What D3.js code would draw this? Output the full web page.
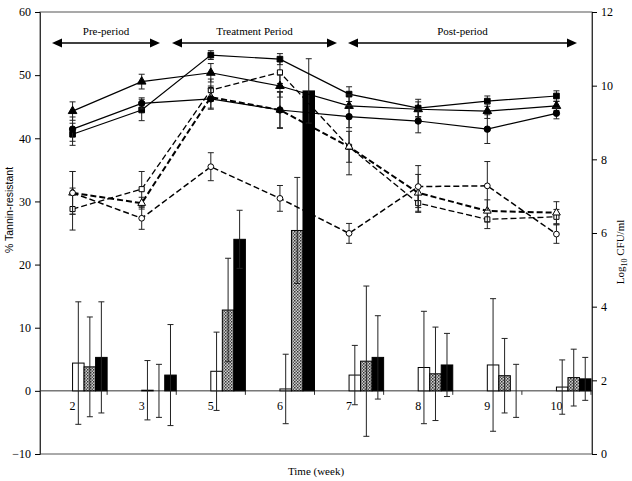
<!DOCTYPE html>
<html>
<head>
<meta charset="utf-8">
<script src="https://cdn.jsdelivr.net/npm/d3@7"></script>
<style>
  body { margin: 0; background: #fff; }
  svg text { font-family: "Liberation Serif", "Times New Roman", serif; }
</style>
</head>
<body>
<svg id="chart" width="632" height="481"></svg>
<script>
// weeks on the category axis
const weeks = ['2', '3', '5', '6', '7', '8', '9', '10'];

// % tannin-resistant bars (left axis) and their error (+/-)
const barWhite = [4.4, 0.1, 3.1, 0.3, 2.5, 3.7, 4.1, 0.6];
const barWhiteErr = [9.7, 4.7, 6.2, 5.5, 4.7, 8.9, 10.5, 4.3];
const barHatched = [3.8, 0, 12.8, 25.4, 4.7, 2.7, 2.4, 2.1];
const barHatchedErr = [7.9, 4.2, 8.2, 8.4, 11.9, 7.4, 5.9, 4.5];
const barBlack = [5.3, 2.5, 24.0, 47.5, 5.3, 4.1, 0, 1.9];
const barBlackErr = [8.8, 8.0, 4.6, 5.1, 6.6, 5.0, 4.2, 3.4];

// log10 CFU/ml lines (right axis)
const solidSquare = [8.68, 9.34, 10.83, 10.72, 9.77, 9.39, 9.58, 9.72];
const solidSquareErr = [0.3, 0.29, 0.12, 0.15, 0.2, 0.24, 0.14, 0.14];
const solidTriangle = [9.31, 10.11, 10.35, 9.99, 9.45, 9.36, 9.31, 9.45];
const solidTriangleErr = [0.25, 0.2, 0.25, 0.3, 0.3, 0.2, 0.2, 0.12];
const solidCircle = [8.82, 9.52, 9.64, 9.34, 9.16, 9.04, 8.82, 9.25];
const solidCircleErr = [0.33, 0.15, 0.28, 0.48, 0.3, 0.32, 0.39, 0.15];

const dashSquare = [6.65, 7.19, 9.88, 10.36, 8.34, 6.81, 6.37, 6.44];
const dashSquareErr = [0.57, 0.48, 0.3, 0.3, 0.42, 0.25, 0.25, 0.2];
const dashTriangle = [7.09, 6.81, 9.69, 9.34, 8.34, 7.09, 6.6, 6.55];
const dashTriangleErr = [0.58, 0.16, 0.3, 0.5, 0.76, 0.5, 0.3, 0.3];
const dashCircle = [7.09, 6.4, 7.8, 6.94, 5.99, 7.26, 7.28, 5.97];
const dashCircleErr = [0.58, 0.3, 0.38, 0.35, 0.27, 0.57, 0.66, 0.25];

const leftTicks = [-10, 0, 10, 20, 30, 40, 50, 60];
const rightTicks = [0, 2, 4, 6, 8, 10, 12];

// period arrows
const periodLabels = ['Pre-period', 'Treatment Period', 'Post-period'];

const svg = d3.select('#chart');
const plotL = 40, plotR = 592, plotT = 12, plotB = 454;

const x = d3.scaleBand().domain(weeks).range([38, 591]).padding(0);
const yL = d3.scaleLinear().domain([-10, 60]).range([plotB, plotT]);
const yR = d3.scaleLinear().domain([0, 12]).range([plotB, plotT]);
const cx = w => x(w) + x.bandwidth() / 2;
const bw = x.bandwidth() / 6;

// hatch pattern for the middle bars
const defs = svg.append('defs');
const pat = defs.append('pattern').attr('id', 'hatch')
  .attr('patternUnits', 'userSpaceOnUse').attr('width', 3).attr('height', 3);
pat.append('rect').attr('width', 3).attr('height', 3).attr('fill', '#d0d0d0');
pat.append('rect').attr('width', 1.5).attr('height', 1.5).attr('fill', '#333');
pat.append('rect').attr('x', 1.5).attr('y', 1.5).attr('width', 1.5).attr('height', 1.5).attr('fill', '#555');

// frame
svg.append('rect').attr('x', plotL).attr('y', plotT)
  .attr('width', plotR - plotL).attr('height', plotB - plotT)
  .attr('fill', 'none').attr('stroke', '#555').attr('stroke-width', 1);

// left axis
const ga = svg.append('g').attr('transform', `translate(${plotL},0)`)
  .call(d3.axisLeft(yL).tickValues(leftTicks).tickSize(5).tickFormat(d3.format('d')));
ga.select('.domain').attr('stroke', '#333');
ga.selectAll('text').style('font-size', '12px').attr('x', -9);

// right axis
const gr = svg.append('g').attr('transform', `translate(${plotR},0)`)
  .call(d3.axisRight(yR).tickValues(rightTicks).tickSize(5));
gr.select('.domain').attr('stroke', '#333');
gr.selectAll('text').style('font-size', '12px').attr('x', 9);

// zero line with category ticks
svg.append('line').attr('x1', plotL).attr('x2', plotR)
  .attr('y1', yL(0)).attr('y2', yL(0)).attr('stroke', '#333');
svg.selectAll('.ctick').data(weeks).enter().append('line')
  .attr('x1', d => x(d) + x.bandwidth()).attr('x2', d => x(d) + x.bandwidth())
  .attr('y1', yL(0)).attr('y2', yL(0) + 4).attr('stroke', '#333');
svg.selectAll('.clab').data(weeks).enter().append('text')
  .attr('x', d => cx(d)).attr('y', yL(0) + 19)
  .attr('text-anchor', 'middle').style('font-size', '12px').text(d => d);

// bars
const barSets = [
  { v: barWhite, e: barWhiteErr, fill: '#fff' },
  { v: barHatched, e: barHatchedErr, fill: 'url(#hatch)' },
  { v: barBlack, e: barBlackErr, fill: '#000' }
];
barSets.forEach((s, i) => {
  const g = svg.append('g');
  weeks.forEach((w, j) => {
    const bx = cx(w) + i * bw;
    const v = s.v[j];
    if (v > 0.05) {
      g.append('rect').attr('x', bx).attr('y', yL(v))
        .attr('width', bw).attr('height', yL(0) - yL(v))
        .attr('fill', s.fill).attr('stroke', '#000').attr('stroke-width', 1);
    }
    const mx = bx + bw / 2;
    const hi = yL(v + s.e[j]), lo = yL(v - s.e[j]);
    g.append('line').attr('x1', mx).attr('x2', mx).attr('y1', hi).attr('y2', lo)
      .attr('stroke', '#222').attr('stroke-width', 1);
    [hi, lo].forEach(yy => g.append('line').attr('x1', mx - 3).attr('x2', mx + 3)
      .attr('y1', yy).attr('y2', yy).attr('stroke', '#222').attr('stroke-width', 1));
  });
});

// lines
const lineSets = [
  { v: dashSquare, e: dashSquareErr, sym: d3.symbolSquare, open: true, dash: '6,3', w: 1.3 },
  { v: dashTriangle, e: dashTriangleErr, sym: d3.symbolTriangle, open: true, dash: '6,3', w: 2 },
  { v: dashCircle, e: dashCircleErr, sym: d3.symbolCircle, open: true, dash: '6,3', w: 1.5 },
  { v: solidSquare, e: solidSquareErr, sym: d3.symbolSquare, open: false, dash: null, w: 1.2 },
  { v: solidTriangle, e: solidTriangleErr, sym: d3.symbolTriangle, open: false, dash: null, w: 1.2 },
  { v: solidCircle, e: solidCircleErr, sym: d3.symbolCircle, open: false, dash: null, w: 1.2 }
];
const line = d3.line().x((d, j) => cx(weeks[j])).y(d => yR(d));
lineSets.forEach(s => {
  const g = svg.append('g');
  g.append('path').datum(s.v).attr('d', line).attr('fill', 'none')
    .attr('stroke', '#000').attr('stroke-width', s.w)
    .attr('stroke-dasharray', s.dash);
  s.v.forEach((v, j) => {
    const px = cx(weeks[j]);
    const hi = yR(v + s.e[j]), lo = yR(v - s.e[j]);
    g.append('line').attr('x1', px).attr('x2', px).attr('y1', hi).attr('y2', lo)
      .attr('stroke', '#222');
    [hi, lo].forEach(yy => g.append('line').attr('x1', px - 3).attr('x2', px + 3)
      .attr('y1', yy).attr('y2', yy).attr('stroke', '#222'));
    g.append('path').attr('d', d3.symbol().type(s.sym).size(s.open ? 26 : 32)())
      .attr('transform', `translate(${px},${yR(v)})`)
      .attr('fill', s.open ? '#fff' : '#000').attr('stroke', '#000').attr('stroke-width', 1);
  });
});

// period arrows: each spans from just left of its first week to just right of its last
const periodSpans = [[52, 160], [172, 337], [348, 577]];
const ay = 43;
periodLabels.forEach((lab, i) => {
  const [a, b] = periodSpans[i];
  svg.append('line').attr('x1', a + 8).attr('x2', b - 8)
    .attr('y1', ay).attr('y2', ay).attr('stroke', '#000').attr('stroke-width', 1.5);
  svg.append('path').attr('d', `M${a},${ay}L${a + 10},${ay - 4.5}L${a + 10},${ay + 4.5}Z`);
  svg.append('path').attr('d', `M${b},${ay}L${b - 10},${ay - 4.5}L${b - 10},${ay + 4.5}Z`);
  svg.append('text').attr('x', (a + b) / 2).attr('y', 35)
    .attr('text-anchor', 'middle').style('font-size', '11px').text(lab);
});

// axis titles
svg.append('text').attr('x', 316).attr('y', 475).attr('text-anchor', 'middle')
  .style('font-size', '11px').text('Time (week)');
svg.append('text').attr('transform', 'translate(13,210) rotate(-90)')
  .attr('text-anchor', 'middle').style('font-family', '"Liberation Sans", Arial, sans-serif')
  .style('font-size', '10.5px').text('% Tannin-resistant');
const rt = svg.append('text').attr('transform', 'translate(624,252) rotate(-90)')
  .attr('text-anchor', 'middle').style('font-size', '11px');
rt.append('tspan').text('Log');
rt.append('tspan').attr('dy', 3).style('font-size', '8px').text('10');
rt.append('tspan').attr('dy', -3).text(' CFU/ml');
</script>
</body>
</html>
